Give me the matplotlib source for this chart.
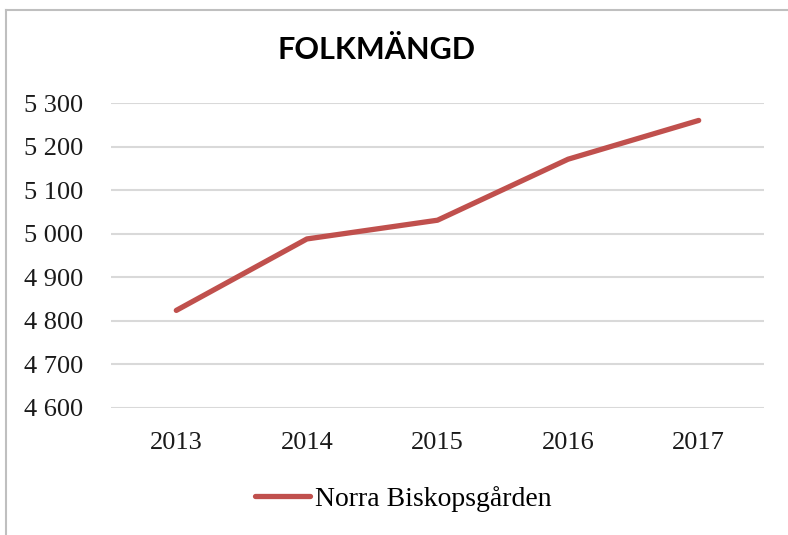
import matplotlib
matplotlib.use("Agg")
import matplotlib.pyplot as plt
from matplotlib.lines import Line2D

years = ["2013", "2014", "2015", "2016", "2017"]
population = [4824, 4988, 5031, 5171, 5260]
yticks = [4600, 4700, 4800, 4900, 5000, 5100, 5200, 5300]
ytick_labels = ["4 600", "4 700", "4 800", "4 900", "5 000", "5 100", "5 200", "5 300"]
series_name = "Norra Biskopsgården"
title = "FOLKMÄNGD"

W, H = 788, 535
fig = plt.figure(figsize=(W / 100, H / 100), dpi=100)
ax = fig.add_axes([111 / W, 1 - 408 / H, (764 - 111) / W, (408 - 103) / H])

serif = ["Liberation Serif", "DejaVu Serif"]
x = list(range(len(years)))
line, = ax.plot(x, population, color="#C0504D", lw=3.8, solid_capstyle="round",
                solid_joinstyle="round", zorder=3)

ax.set_xlim(-0.5, len(years) - 0.5)
ax.set_ylim(4600, 5300)
ax.set_yticks(yticks)
ax.set_yticklabels(ytick_labels, fontsize=19, family=serif, color="#1a1a1a")
ax.set_xticks(x)
ax.set_xticklabels(years, fontsize=19, family=serif, color="#1a1a1a")
ax.tick_params(length=0, axis="y", pad=20)
ax.tick_params(length=0, axis="x", pad=17)
ax.grid(axis="y", color="#D9D9D9", lw=1.5)
ax.set_axisbelow(True)
for s in ax.spines.values():
    s.set_visible(False)

fig.text(377 / W, 1 - 50 / H, title, ha="center", va="center", fontsize=22,
         fontweight="bold", family=["Lato", "DejaVu Sans"])

leg = fig.legend([line], [series_name], loc="center", bbox_to_anchor=(403 / W, 1 - 499 / H),
                 frameon=False, prop={"family": serif, "size": 20},
                 handlelength=2.0, handletextpad=0.15)

fig.add_artist(Line2D([6 / W, 6 / W], [0, 1 - 10 / H], color="#BFBFBF", lw=1.5,
                      transform=fig.transFigure))
fig.add_artist(Line2D([6 / W, 1], [1 - 10 / H, 1 - 10 / H], color="#BFBFBF", lw=1.5,
                      transform=fig.transFigure))

fig.savefig("out.png", dpi=100)
